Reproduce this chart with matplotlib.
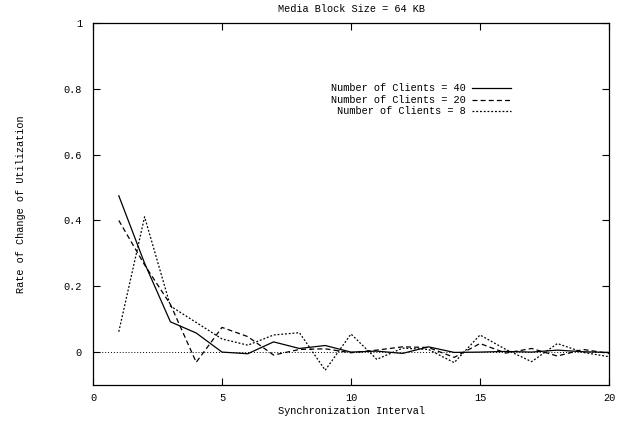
import matplotlib
matplotlib.use("Agg")
import matplotlib.pyplot as plt
from matplotlib.lines import Line2D

plt.rcParams['font.family'] = ['Liberation Mono', 'DejaVu Sans Mono']
plt.rcParams['font.size'] = 7.4

title = "Media Block Size = 64 KB"
xlabel = "Synchronization Interval"
ylabel = "Rate of Change of Utilization"

x = list(range(1, 21))
clients_40 = [0.475, 0.27, 0.092, 0.058, 0.0, -0.005, 0.031, 0.011, 0.02, 0.0,
              0.003, -0.004, 0.016, -0.001, 0.0, 0.002, 0.0, 0.006, 0.001, -0.001]
clients_20 = [0.40, 0.265, 0.145, -0.031, 0.075, 0.047, -0.009, 0.008, 0.01, -0.002,
              0.006, 0.016, 0.014, -0.016, 0.026, -0.003, 0.011, -0.012, 0.008, -0.004]
clients_8 = [0.062, 0.411, 0.14, 0.09, 0.04, 0.021, 0.052, 0.059, -0.055, 0.055,
             -0.022, 0.012, 0.008, -0.032, 0.052, 0.008, -0.029, 0.026, -0.001, -0.014]
labels = ["Number of Clients = 40", "Number of Clients = 20", " Number of Clients = 8"]

xticks = [0, 5, 10, 15, 20]
yticks = [0, 0.2, 0.4, 0.6, 0.8, 1]
ytick_labels = ["0", "0.2", "0.4", "0.6", "0.8", "1"]

fig = plt.figure(figsize=(6.29, 4.22), dpi=100)
ax = fig.add_axes([93/629, 1-385/422, (609-93)/629, (385-23)/422])

styles = [dict(color='black', lw=0.9, linestyle='-'),
          dict(color='black', lw=0.9, linestyle=(0, (4, 2.5))),
          dict(color='black', lw=0.9, linestyle=(0, (1.5, 1.5)))]

for ys, st in zip([clients_40, clients_20, clients_8], styles):
    ax.plot(x, ys, **st)

ax.axhline(0, color='black', lw=0.7, linestyle=(0, (1, 2)))

ax.set_xlim(0, 20)
ax.set_ylim(-0.1, 1)
ax.set_xticks(xticks)
ax.set_yticks(yticks)
ax.set_yticklabels(ytick_labels)
ax.tick_params(direction='in', length=5, width=0.8, top=True, right=True,
               labelsize=7.4)
ax.tick_params(axis='x', pad=6)
ax.tick_params(axis='y', pad=8)
for s in ax.spines.values():
    s.set_linewidth(0.9)

ax.set_title(title, fontsize=7.4, pad=8)
ax.set_xlabel(xlabel, fontsize=7.4, labelpad=2)
ax.set_ylabel(ylabel, fontsize=7.4, labelpad=27)

# legend (gnuplot style: text right aligned, sample to the right)
legend_y = [88, 100, 111]
for lab, st, py in zip(labels, styles, legend_y):
    yy = 1 - (py - 23) / (385 - 23)
    xt = (466 - 93) / (609 - 93)
    ax.text(xt, yy, lab, transform=ax.transAxes, ha='right', va='center',
            fontsize=7.4)
    x0 = (472 - 93) / (609 - 93)
    x1 = (511 - 93) / (609 - 93)
    ax.add_line(Line2D([x0, x1], [yy, yy], transform=ax.transAxes, **st))

fig.savefig("out.png", dpi=100)
